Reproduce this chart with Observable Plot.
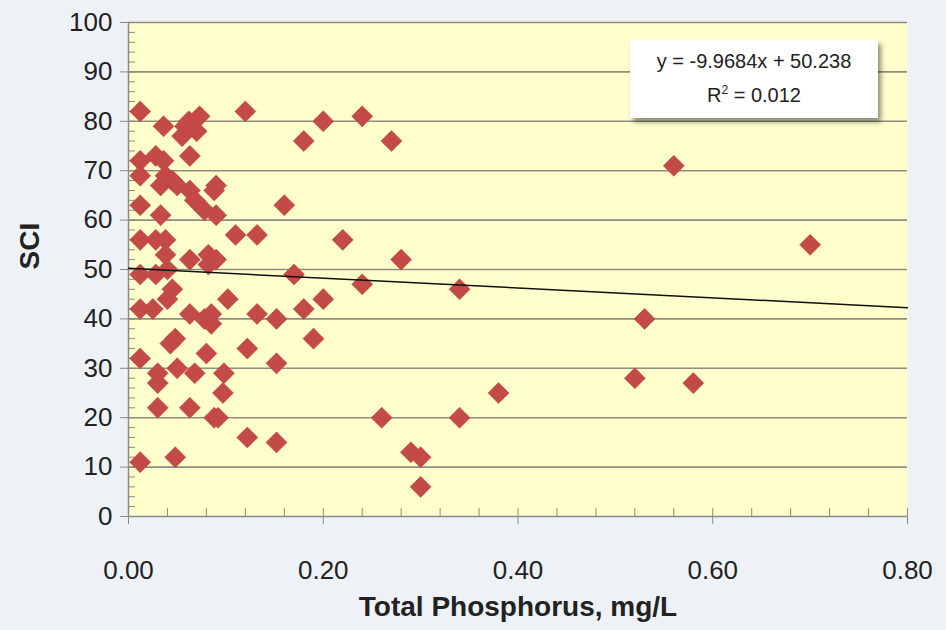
<!DOCTYPE html>
<html>
<head>
<meta charset="utf-8">
<script src="https://cdn.jsdelivr.net/npm/d3@7"></script>
<script src="https://cdn.jsdelivr.net/npm/@observablehq/plot@0.6"></script>
<style>
  html, body { margin: 0; padding: 0; background: #eef2f7; }
  #wrap { position: relative; width: 946px; height: 630px; overflow: hidden; }
  #eq {
    position: absolute; left: 630px; top: 40px; width: 248px; height: 78px;
    background: #ffffff; box-shadow: 3px 4px 5px rgba(0,0,0,0.45);
    font-family: "Liberation Sans", sans-serif;
    font-size: 20px; color: #222; text-align: center; line-height: 34px; padding-top: 4px; box-sizing: border-box;
  }
  #eq sup { font-size: 12px; vertical-align: 8px; line-height: 0; }
</style>
</head>
<body>
<div id="wrap"><div id="eq"></div></div>
<script>
const tp = [0.012,0.012,0.012,0.012,0.012,0.012,0.012,0.012,0.012,0.025,
  0.028,0.028,0.028,0.03,0.03,0.03,0.033,0.033,0.036,0.036,
  0.038,0.038,0.038,0.04,0.04,0.043,0.045,0.045,0.048,0.048,
  0.05,0.05,0.055,0.058,0.062,0.063,0.063,0.063,0.063,0.063,
  0.068,0.068,0.07,0.073,0.078,0.078,0.08,0.082,0.082,0.085,
  0.085,0.088,0.09,0.09,0.088,0.092,0.09,0.097,0.098,0.102,
  0.11,0.12,0.122,0.122,0.132,0.132,0.152,0.152,0.152,0.16,
  0.17,0.18,0.18,0.19,0.2,0.2,0.22,0.24,0.24,0.26,
  0.27,0.28,0.29,0.30,0.30,0.34,0.34,0.38,0.52,0.53,
  0.56,0.58,0.70];
const sci = [82,72,69,63,56,49,42,32,11,42,
  73,56,49,29,27,22,61,67,79,72,
  69,56,53,50,44,35,68,46,36,12,
  67,30,77,79,80,73,66,52,41,22,
  64,29,78,81,62,40,33,53,51,41,
  39,66,67,61,20,20,52,25,29,44,
  57,82,34,16,57,41,40,31,15,63,
  49,76,42,36,80,44,56,81,47,20,
  76,52,13,12,6,46,20,25,28,40,
  71,27,55];
const slope = -9.9684, intercept = 50.238, r2 = "0.012";
const xTicks = [0, 0.2, 0.4, 0.6, 0.8];
const xMinor = d3.range(0, 0.8001, 0.04);
const yTicks = d3.range(0, 101, 10);
const yMinor = d3.range(0, 101, 2);

const data = tp.map((x, i) => ({x, y: sci[i]}));
const font = '"Liberation Sans", sans-serif';
const axisCol = "#8a8a88";

const chart = Plot.plot({
  width: 946, height: 630,
  marginLeft: 128, marginRight: 39, marginTop: 22, marginBottom: 114,
  style: {background: "transparent", fontFamily: font, fontSize: "26px", color: "#222"},
  x: {domain: [0, 0.8], label: null},
  y: {domain: [0, 100], label: null},
  marks: [
    Plot.frame({fill: "#ffffcc", stroke: null}),
    Plot.gridY(yTicks.slice(1), {stroke: "#8e8e82", strokeOpacity: 1, strokeWidth: 1.6}),
    Plot.axisY(yMinor, {tickSize: -7, text: null, stroke: axisCol}),
    Plot.axisY(yTicks, {tickSize: 8, tickPadding: 8, stroke: axisCol, tickFormat: d => d, fill: "#222"}),
    Plot.axisX(xMinor, {tickSize: -8, text: null, stroke: axisCol}),
    Plot.axisX(xTicks, {tickSize: 8, tickPadding: 36, stroke: axisCol, tickFormat: d => d.toFixed(2), fill: "#222"}),
    Plot.ruleX([0], {stroke: axisCol, strokeWidth: 1.5}),
    Plot.ruleY([0], {stroke: axisCol, strokeWidth: 1.5}),
    Plot.dot(data, {x: "x", y: "y", symbol: "diamond2", r: 9.5, fill: "#c44a48", stroke: "#b8423f", strokeWidth: 0.5}),
    Plot.line(xTicks.filter((d, i) => i === 0 || i === xTicks.length - 1), {x: d => d, y: d => slope * d + intercept, stroke: "#111", strokeWidth: 1.5}),
    Plot.text(["Total Phosphorus, mg/L"], {frameAnchor: "bottom", dy: 99, fontSize: 28, fontWeight: "bold", fill: "#222"}),
    Plot.text(["SCI"], {frameAnchor: "left", dx: -98, rotate: -90, fontSize: 28, fontWeight: "bold", fill: "#222"})
  ]
});
document.getElementById("wrap").prepend(chart);
document.getElementById("eq").innerHTML =
  `y = ${slope}x + ${intercept}<br>R<sup>2</sup> = ${r2}`;
</script>
</body>
</html>
